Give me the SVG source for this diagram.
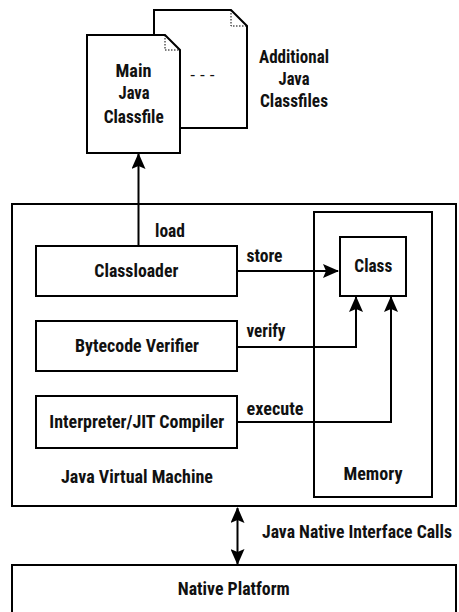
<svg xmlns="http://www.w3.org/2000/svg" width="459" height="612" viewBox="0 0 459 612">
<style>
  .box{fill:#fff;stroke:#000;stroke-width:2}
  .doc{fill:#fff;stroke:#000;stroke-width:2;stroke-linejoin:miter}
  .fold{fill:none;stroke:#000;stroke-width:1;stroke-dasharray:1.5 1.5}
  .t{font-family:"Liberation Sans Narrow","Roboto Condensed",Roboto,"Liberation Sans",Arial,sans-serif;font-weight:bold;font-size:19px;fill:#111}
  .c{text-anchor:middle}
  .d{font-family:"Liberation Sans",Arial,sans-serif;font-size:16px;fill:#111}
  .ln{fill:none;stroke:#000;stroke-width:2}
</style>
<defs>
  <marker id="ah" viewBox="0 0 16 14" refX="15" refY="7" markerWidth="16" markerHeight="14" markerUnits="userSpaceOnUse" orient="auto-start-reverse">
    <path d="M0,0 L16,7 L0,14 L3,7 z" fill="#000"/>
  </marker>
</defs>
<rect width="459" height="612" fill="#fff"/>

<g id="additional-classfiles">
  <path class="doc" d="M154,10 H231 L247,26 V128 H154 Z"/>
  <path class="fold" d="M231,10 V26 H247"/>
  <text class="d c" x="202.5" y="80">- - -</text>
</g>
<g id="main-classfile">
  <path class="doc" d="M87,35 H165 L180,50 V153 H87 Z"/>
  <path class="fold" d="M165,35 V50 H180"/>
  <text class="t c" x="133.5" y="77" textLength="36" lengthAdjust="spacingAndGlyphs">Main</text>
  <text class="t c" x="134" y="99" textLength="31" lengthAdjust="spacingAndGlyphs">Java</text>
  <text class="t c" x="133.7" y="123" textLength="60" lengthAdjust="spacingAndGlyphs">Classfile</text>
</g>
<g id="additional-label">
  <text class="t c" x="294" y="63" textLength="70" lengthAdjust="spacingAndGlyphs">Additional</text>
  <text class="t c" x="294" y="85" textLength="31" lengthAdjust="spacingAndGlyphs">Java</text>
  <text class="t c" x="294" y="107" textLength="68" lengthAdjust="spacingAndGlyphs">Classfiles</text>
</g>

<g id="jvm">
  <rect class="box" x="12" y="204" width="444" height="302"/>
  <text class="t" x="61" y="483" textLength="152" lengthAdjust="spacingAndGlyphs">Java Virtual Machine</text>
</g>
<g id="memory">
  <rect class="box" x="314" y="212" width="118" height="285"/>
  <text class="t c" x="373" y="480" textLength="59" lengthAdjust="spacingAndGlyphs">Memory</text>
</g>
<g id="class">
  <rect class="box" x="340" y="237" width="66" height="59"/>
  <text class="t c" x="373.3" y="272" textLength="38" lengthAdjust="spacingAndGlyphs">Class</text>
</g>
<g id="classloader">
  <rect class="box" x="36" y="246" width="201" height="50"/>
  <text class="t c" x="136.3" y="277" textLength="84" lengthAdjust="spacingAndGlyphs">Classloader</text>
</g>
<g id="verifier">
  <rect class="box" x="36" y="321" width="201" height="50"/>
  <text class="t c" x="137" y="352" textLength="124" lengthAdjust="spacingAndGlyphs">Bytecode Verifier</text>
</g>
<g id="interpreter">
  <rect class="box" x="36" y="396" width="201" height="52"/>
  <text class="t c" x="136.8" y="428" textLength="175" lengthAdjust="spacingAndGlyphs">Interpreter/JIT Compiler</text>
</g>
<g id="native">
  <rect class="box" x="12" y="565" width="444" height="60"/>
  <text class="t c" x="233.8" y="595" textLength="112" lengthAdjust="spacingAndGlyphs">Native Platform</text>
</g>

<g id="connectors">
  <path class="ln" d="M138.5,246 V154" marker-end="url(#ah)"/>
  <text class="t" x="155" y="237" textLength="30" lengthAdjust="spacingAndGlyphs">load</text>
  <path class="ln" d="M237,271 H338" marker-end="url(#ah)"/>
  <text class="t" x="246.5" y="262" textLength="36" lengthAdjust="spacingAndGlyphs">store</text>
  <path class="ln" d="M237,347 H356 V297" marker-end="url(#ah)"/>
  <text class="t" x="246.5" y="337" textLength="39" lengthAdjust="spacingAndGlyphs">verify</text>
  <path class="ln" d="M237,422 H391 V297" marker-end="url(#ah)"/>
  <text class="t" x="246.5" y="415" textLength="57" lengthAdjust="spacingAndGlyphs">execute</text>
  <path class="ln" d="M237.5,508 V564" marker-start="url(#ah)" marker-end="url(#ah)"/>
  <text class="t" x="262" y="538" style="font-size:17.5px" textLength="190" lengthAdjust="spacingAndGlyphs">Java Native Interface Calls</text>
</g>
</svg>
